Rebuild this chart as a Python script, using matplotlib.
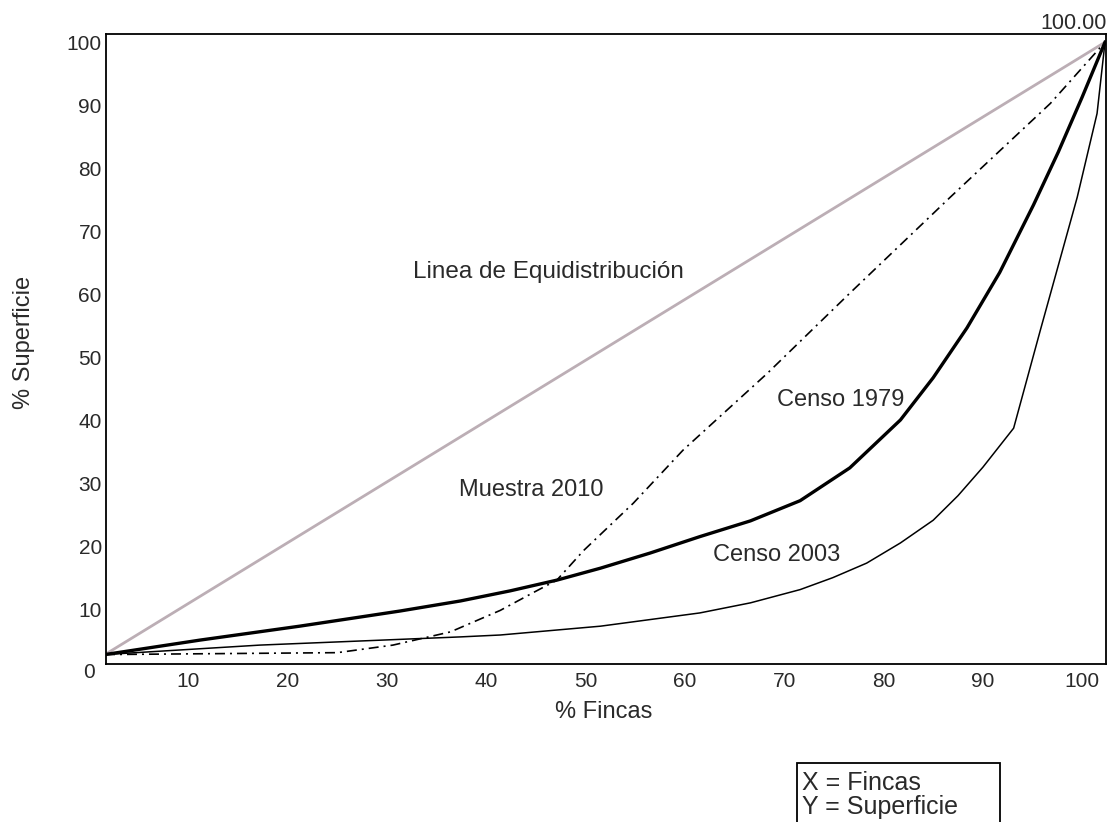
import matplotlib.pyplot as plt
from matplotlib.patches import Rectangle

plt.rcParams['font.family'] = ['Liberation Sans', 'DejaVu Sans']

# values (% fincas, % superficie)
equi_x = [1.6, 102.3]
equi_y = [2.9, 100.0]

censo1979_x = [1.6, 11.2, 21.2, 31.3, 37.4, 42.4, 47.1, 51.5, 56.5, 61.5, 66.6, 71.6, 76.6,
               81.7, 85.0, 88.4, 91.7, 95.1, 97.6, 100.0, 102.3]
censo1979_y = [2.9, 5.2, 7.4, 9.8, 11.4, 13.0, 14.7, 16.6, 19.0, 21.6, 24.1, 27.3, 32.5,
               40.1, 46.8, 54.7, 63.5, 74.2, 82.6, 91.3, 100.0]

censo2003_x = [1.6, 17.2, 37.4, 41.4, 51.5, 61.5, 66.6, 71.6, 74.9, 78.3, 81.7, 85.0, 87.5,
               90.0, 93.1, 95.8, 99.5, 101.5, 102.3]
censo2003_y = [2.9, 4.4, 5.7, 6.0, 7.4, 9.5, 11.1, 13.2, 15.1, 17.4, 20.6, 24.2, 28.1,
               32.6, 38.8, 54.4, 75.4, 88.7, 100.0]

muestra2010_x = [1.6, 25.0, 30.6, 36.4, 41.4, 44.7, 47.1, 49.8, 54.8, 59.8, 68.3, 76.6, 86.7, 96.8, 102.3]
muestra2010_y = [2.9, 3.2, 4.4, 6.5, 9.9, 12.7, 14.7, 19.4, 26.9, 35.3, 47.5, 60.2, 75.4, 90.3, 100.0]

x_ticks = [10, 20, 30, 40, 50, 60, 70, 80, 90, 100]
y_ticks = [10, 20, 30, 40, 50, 60, 70, 80, 90, 100]

fig = plt.figure(figsize=(11.12, 8.22), dpi=100)
ax = fig.add_axes([0.0953, 0.1922, 0.8993, 0.7664])

ax.plot(equi_x, equi_y, color='#bcaeb5', lw=2.0, zorder=2)
ax.plot(muestra2010_x, muestra2010_y, color='black', lw=1.2,
        linestyle=(0, (6, 3, 1.2, 3)), zorder=3)
ax.plot(censo2003_x, censo2003_y, color='black', lw=1.1, zorder=3)
ax.plot(censo1979_x, censo1979_y, color='black', lw=2.4, zorder=4)

ax.set_xlim(1.7, 102.4)
ax.set_ylim(1.4, 101.3)
ax.set_xticks(x_ticks)
ax.set_yticks(y_ticks)
ax.tick_params(axis='both', length=0, labelsize=15, colors='#2a2a2a')
ax.tick_params(axis='x', pad=6)
ax.tick_params(axis='y', pad=3)
for s in ax.spines.values():
    s.set_linewidth(1.3)
    s.set_color('black')

# shared origin label
ax.text(0, 0, '0', ha='center', va='center', fontsize=15, color='#2a2a2a', clip_on=False)

ax.set_xlabel('% Fincas', fontsize=17, color='#2a2a2a', va='center')
ax.xaxis.set_label_coords(0.498, -0.076)
ax.set_ylabel('% Superficie', fontsize=17, color='#2a2a2a', va='center')
ax.yaxis.set_label_coords(-0.082, 0.51)

ax.text(32.6, 63.5, 'Linea de Equidistribución', fontsize=17.5, color='#2a2a2a', ha='left', va='center')
ax.text(37.2, 29.0, 'Muestra 2010', fontsize=17, color='#2a2a2a', ha='left', va='center')
ax.text(69.3, 43.3, 'Censo 1979', fontsize=17, color='#2a2a2a', ha='left', va='center')
ax.text(62.8, 18.7, 'Censo 2003', fontsize=17, color='#2a2a2a', ha='left', va='center')
ax.text(102.5, 102.9, '100.00', fontsize=15.5, color='#2a2a2a', ha='right', va='center', clip_on=False)

# note box at bottom right
fig.add_artist(Rectangle((0.7167, -0.01), 0.1826, 0.0818, transform=fig.transFigure,
                         fill=False, edgecolor='black', lw=1.3))
fig.text(0.7212, 0.0474, 'X = Fincas', fontsize=18, color='#2a2a2a', ha='left', va='center')
fig.text(0.7212, 0.0182, 'Y = Superficie', fontsize=18, color='#2a2a2a', ha='left', va='center')

fig.savefig('out.png', dpi=100)
